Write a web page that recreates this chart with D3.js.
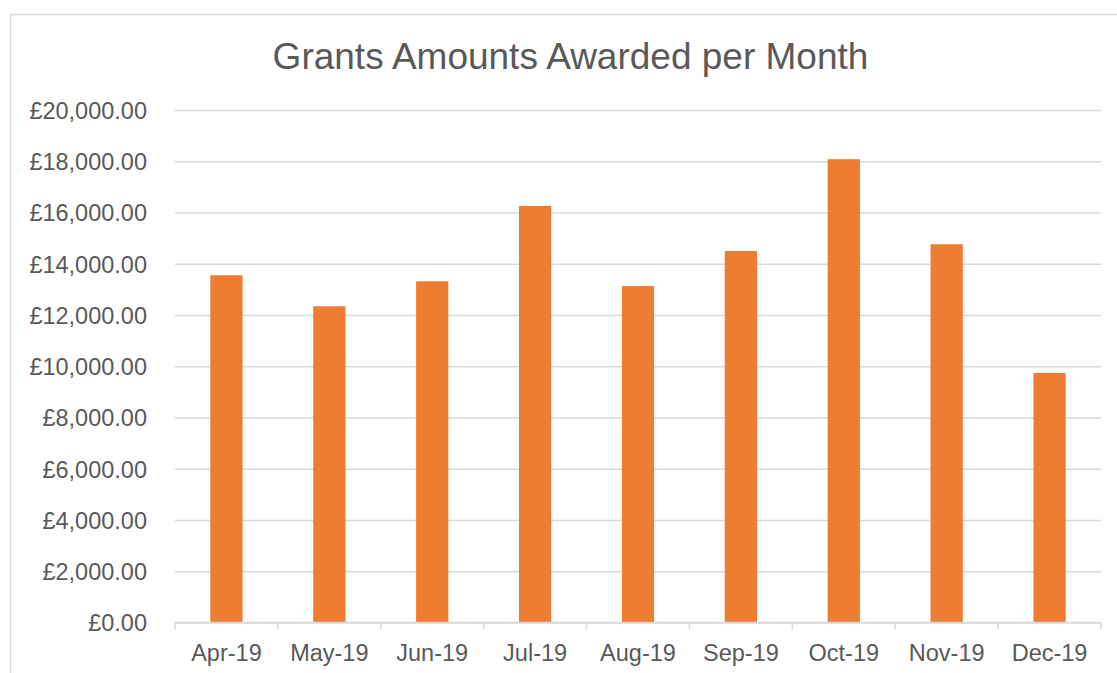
<!DOCTYPE html>
<html><head><meta charset="utf-8">
<script src="https://cdn.jsdelivr.net/npm/d3@7"></script>
<style>
html,body{margin:0;padding:0;background:#fff;overflow:hidden;}
text{font-family:"Liberation Sans",Arial,sans-serif;fill:#595959;}
</style></head>
<body>
<svg id="chart" width="1117" height="673"></svg>
<script>
const categories = ["Apr-19","May-19","Jun-19","Jul-19","Aug-19","Sep-19","Oct-19","Nov-19","Dec-19"];
const amounts = [13550, 12340, 13315, 16255, 13130, 14500, 18080, 14760, 9740];
const yTicks = [0,2000,4000,6000,8000,10000,12000,14000,16000,18000,20000];
const title = "Grants Amounts Awarded per Month";

const svg = d3.select("#chart");
const W = 1117, H = 673;
const m = {left:175, right:1101, top:110, bottom:622.5};

svg.append("rect").attr("x",10.5).attr("y",14.5).attr("width",W+20).attr("height",H+20)
  .attr("fill","#fff").attr("stroke","#d9d9d9").attr("stroke-width",1.5);

const x = d3.scaleBand().domain(categories).range([m.left,m.right]).padding(0);
const y = d3.scaleLinear().domain([0,20000]).range([m.bottom,m.top]);
const fmt = v => "£" + d3.format(",.2f")(v);

// gridlines
const yAxis = d3.axisLeft(y).tickValues(yTicks).tickSize(-(m.right-m.left)).tickFormat(fmt).tickPadding(28);
const gy = svg.append("g").attr("transform",`translate(${m.left},0)`).call(yAxis);
gy.select(".domain").remove();
gy.selectAll(".tick line").attr("stroke","#d9d9d9").attr("stroke-width",1.5);
gy.selectAll(".tick text").attr("font-size","23.5px").attr("fill","#595959")
  .attr("font-family","Liberation Sans, Arial, sans-serif").attr("dy","0.36em");

// bars
const barW = x.step()/3.19;
svg.append("g").selectAll("rect").data(amounts).join("rect")
  .attr("x",(d,i)=>x(categories[i]) + x.bandwidth()/2 - barW/2)
  .attr("width",barW)
  .attr("y",d=>y(d))
  .attr("height",d=>y(0)-y(d))
  .attr("fill","#ED7D31");

// x axis
const xAxis = d3.axisBottom(x).tickSize(0).tickPadding(22);
const gx = svg.append("g").attr("transform",`translate(0,${m.bottom})`).call(xAxis);
gx.select(".domain").attr("stroke","#d9d9d9").attr("stroke-width",1.5).attr("d",`M${m.left},0H${m.right}`);
gx.selectAll(".tick text").attr("font-size","23.5px").attr("fill","#595959")
  .attr("font-family","Liberation Sans, Arial, sans-serif").attr("dy","0.71em");
// boundary tick marks
const bounds = categories.map(c=>x(c)).concat([m.right]);
gx.selectAll(".bt").data(bounds).join("line").attr("class","bt")
  .attr("x1",d=>d).attr("x2",d=>d).attr("y1",0).attr("y2",7)
  .attr("stroke","#d9d9d9").attr("stroke-width",1.5);

svg.append("text").attr("x",570.5).attr("y",69).attr("text-anchor","middle")
  .attr("font-size","37px").text(title);
</script>
</body></html>
